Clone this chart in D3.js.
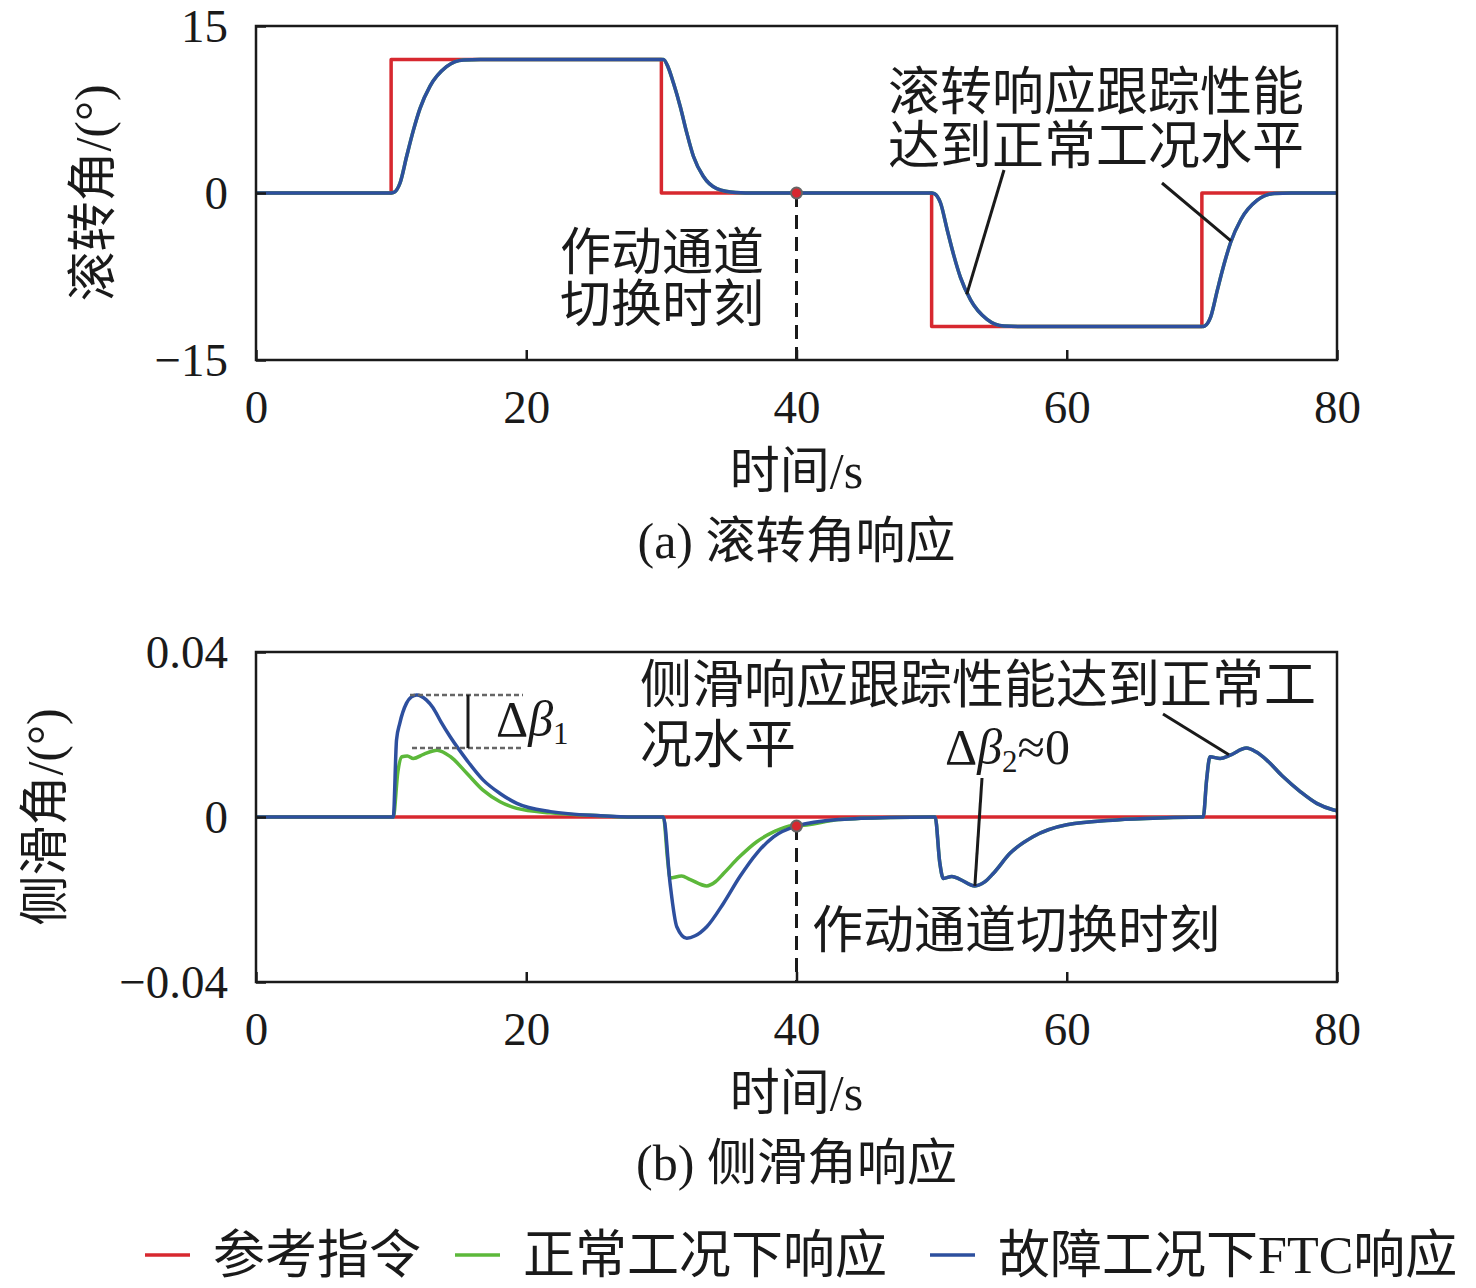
<!DOCTYPE html>
<html>
<head>
<meta charset="utf-8">
<script src="https://cdn.jsdelivr.net/npm/d3@7"></script>
<style>
  body { margin: 0; background: #fff; }
  svg text { font-family: "Liberation Serif", "Noto Sans CJK SC", serif; fill: #1a1a1a; }
</style>
</head>
<body>
<script>
// ---- data ----
const xTicks = [0, 20, 40, 60, 80];
const rollTicks = [-15, 0, 15];
const rollTickLabels = ["\u221215", "0", "15"];
const betaTicks = [-0.04, 0, 0.04];
const betaTickLabels = ["\u22120.04", "0", "0.04"];

// reference command (step) for roll angle, deg
const refTime = [0, 10, 30, 50, 70, 80];
const rollRef = [0, 12, 0, -12, 0, 0];
const betaRef = [0, 0, 0, 0, 0, 0];

// roll angle response (normal and FTC overlap)
const rollTime = [0, 10, 10.2, 10.66, 11.15, 11.64, 12.14, 12.88, 14.1, 15.35, 16.6, 30, 30.15, 30.5, 30.9, 31.4, 31.88, 32.37, 33.1, 34.1, 35.5, 37,
  50, 50.2, 50.66, 51.15, 51.64, 52.14, 52.88, 54.1, 55.35, 56.6, 70, 70.2, 70.66, 71.15, 71.64, 72.14, 72.88, 74.1, 75.35, 76.6, 80];
const rollFtc = [0, 0, 0.05, 0.9, 3.3, 5.6, 7.6, 9.6, 11.35, 11.95, 12, 12, 12, 11.3, 9.85, 7.75, 5.4, 3.3, 1.5, 0.4, 0.05, 0,
  0, -0.05, -0.9, -3.3, -5.6, -7.6, -9.6, -11.35, -11.95, -12, -12, -11.95, -11.1, -8.7, -6.4, -4.4, -2.4, -0.65, -0.05, 0, 0];
const rollNormal = rollFtc.slice();

// sideslip response, FTC
const betaFtcTime = [0, 10, 10.16, 10.4, 10.64, 11.14, 11.5, 11.9, 12.6, 13.1, 13.7, 14.36, 15.6, 16.8, 18.06, 19.3, 21.8, 25.5, 28, 30,
  30.15, 30.64, 31.14, 31.88, 32.5, 33.36, 34.6, 35.8, 37.06, 38.3, 40, 43.2, 47, 50,
  50.26, 50.6, 50.87, 51.5, 52.1, 53.2, 53.9, 54.56, 55.8, 57.5, 60, 63.7, 67.4, 70,
  70.1, 70.35, 70.6, 71.35, 72.1, 73.3, 74.0, 74.8, 76.0, 77.3, 78.5, 79.75, 80];
const betaFtc = [0, 0, 0, 0.0187, 0.0227, 0.0276, 0.0291, 0.0296, 0.0284, 0.0265, 0.023, 0.0195, 0.0138, 0.009, 0.0057, 0.0033, 0.0013, 0.0003, 0, 0,
  0, -0.016, -0.0266, -0.0294, -0.0288, -0.0266, -0.0209, -0.0145, -0.0088, -0.0048, -0.0022, -0.0006, -0.0001, 0,
  0, -0.011, -0.0149, -0.0144, -0.0151, -0.0167, -0.0158, -0.0137, -0.0088, -0.0048, -0.0019, -0.0007, -0.0002, 0,
  0, 0.009, 0.0146, 0.0142, 0.015, 0.0167, 0.0158, 0.0138, 0.0098, 0.0061, 0.0033, 0.0017, 0.0015];

// sideslip response, normal condition
const betaNormalTime = [0, 10, 10.16, 10.5, 10.8, 11.2, 11.64, 12.4, 13.4, 14.4, 15.6, 16.8, 18.06, 19.3, 21.8, 25.5, 28, 30,
  30.15, 30.45, 30.64, 31.5, 32.1, 33.36, 34.0, 34.6, 35.8, 37.06, 38.3, 39.7, 40, 43.2, 47, 50,
  50.26, 50.6, 50.87, 51.5, 52.1, 53.2, 53.9, 54.56, 55.8, 57.5, 60, 63.7, 67.4, 70,
  70.1, 70.35, 70.6, 71.35, 72.1, 73.3, 74.0, 74.8, 76.0, 77.3, 78.5, 79.75, 80];
const betaNormal = [0, 0, 0, 0.011, 0.0146, 0.0148, 0.0142, 0.0152, 0.0162, 0.0146, 0.0106, 0.0065, 0.0037, 0.0021, 0.001, 0.0003, 0, 0,
  0, -0.01, -0.0148, -0.0143, -0.0151, -0.0167, -0.0157, -0.0137, -0.0096, -0.006, -0.0036, -0.0021, -0.0021, -0.0006, -0.0001, 0,
  0, -0.011, -0.0149, -0.0144, -0.0151, -0.0167, -0.0158, -0.0137, -0.0088, -0.0048, -0.0019, -0.0007, -0.0002, 0,
  0, 0.009, 0.0146, 0.0142, 0.015, 0.0167, 0.0158, 0.0138, 0.0098, 0.0061, 0.0033, 0.0017, 0.0015];

const switchTime = 40;
const legendLabels = ["参考指令", "正常工况下响应", "故障工况下FTC响应"];
const colors = ["#d7282f", "#5cb83a", "#2d4f9e"];

// ---- drawing ----
const svg = d3.select("body").append("svg")
  .attr("width", 1476).attr("height", 1288);

const x = d3.scaleLinear().domain([0, 80]).range([256, 1337]);
const yRoll = d3.scaleLinear().domain([-15, 15]).range([360, 26]);
const yBeta = d3.scaleLinear().domain([-0.04, 0.04]).range([982, 652]);

const zip = (t, v) => t.map((d, i) => [d, v[i]]);

function panel(y, ticks, tickLabels, series, yTitle, titleX, caption) {
  const top = y.range()[1], bottom = y.range()[0];
  const g = svg.append("g");

  // lines
  series.forEach(s => {
    const line = d3.line()
      .x(d => x(d[0])).y(d => y(d[1]))
      .curve(s.step ? d3.curveStepAfter : d3.curveMonotoneX);
    g.append("path").datum(s.data)
      .attr("d", line)
      .attr("fill", "none")
      .attr("stroke", s.color)
      .attr("stroke-width", 3.5)
      .attr("stroke-linejoin", "round");
  });

  // frame
  g.append("rect")
    .attr("x", x(0)).attr("y", top)
    .attr("width", x(80) - x(0)).attr("height", bottom - top)
    .attr("fill", "none").attr("stroke", "#1a1a1a").attr("stroke-width", 2.5);

  const xAxis = g.append("g")
    .attr("transform", `translate(0,${bottom})`)
    .call(d3.axisBottom(x).tickValues(xTicks).tickSizeInner(-10).tickSizeOuter(0).tickPadding(30));
  xAxis.select(".domain").remove();
  xAxis.selectAll("line").attr("stroke", "#1a1a1a").attr("stroke-width", 2.5);
  xAxis.selectAll("text").attr("font-size", 47).attr("fill", "#1a1a1a")
    .style("font-family", "'Liberation Serif', serif");

  const yAxis = g.append("g")
    .attr("transform", `translate(${x(0)},0)`)
    .call(d3.axisLeft(y).tickValues(ticks).tickFormat((d, i) => tickLabels[i])
      .tickSizeInner(-10).tickSizeOuter(0).tickPadding(28));
  yAxis.select(".domain").remove();
  yAxis.selectAll("line").attr("stroke", "#1a1a1a").attr("stroke-width", 2.5);
  yAxis.selectAll("text").attr("font-size", 47).attr("fill", "#1a1a1a")
    .style("font-family", "'Liberation Serif', serif");

  // titles
  g.append("text")
    .attr("x", x(40)).attr("y", bottom + 128)
    .attr("text-anchor", "middle").attr("font-size", 50)
    .text("时间/s");
  g.append("text")
    .attr("x", x(40)).attr("y", bottom + 198)
    .attr("text-anchor", "middle").attr("font-size", 50)
    .text(caption);
  g.append("text")
    .attr("transform", `translate(${titleX},${y(0)}) rotate(-90)`)
    .attr("text-anchor", "middle").attr("dy", "0.35em").attr("font-size", 50)
    .text(yTitle);

  return g;
}

// (a) roll
const gA = panel(yRoll, rollTicks, rollTickLabels, [
  { data: zip(refTime, rollRef), color: colors[0], step: true },
  { data: zip(rollTime, rollNormal), color: colors[1] },
  { data: zip(rollTime, rollFtc), color: colors[2] }
], "滚转角/(°)", 92, "(a) 滚转角响应");

// (b) sideslip
const gB = panel(yBeta, betaTicks, betaTickLabels, [
  { data: zip(refTime, betaRef), color: colors[0], step: true },
  { data: zip(betaNormalTime, betaNormal), color: colors[1] },
  { data: zip(betaFtcTime, betaFtc), color: colors[2] }
], "侧滑角/(°)", 44, "(b) 侧滑角响应");

// switch markers
function switchMark(g, y, yv) {
  g.append("line")
    .attr("x1", x(switchTime)).attr("x2", x(switchTime))
    .attr("y1", y(yv)).attr("y2", y.range()[0])
    .attr("stroke", "#1a1a1a").attr("stroke-width", 3)
    .attr("stroke-dasharray", "14,8");
  g.append("circle")
    .attr("cx", x(switchTime)).attr("cy", y(yv)).attr("r", 5.5)
    .attr("fill", "#d7282f").attr("stroke", "#666").attr("stroke-width", 2);
}
switchMark(gA, yRoll, 0);
switchMark(gB, yBeta, -0.0022);

function label(g, px, py, lines, size, lh) {
  const t = g.append("text").attr("font-size", size);
  lines.forEach((s, i) => t.append("tspan").attr("x", px).attr("y", py + i * lh).text(s));
  return t;
}
function leader(g, x1, y1, x2, y2) {
  g.append("line").attr("x1", x1).attr("y1", y1).attr("x2", x2).attr("y2", y2)
    .attr("stroke", "#1a1a1a").attr("stroke-width", 3);
}

// panel (a) notes
label(gA, 560, 270, ["作动通道", "切换时刻"], 51, 52);
label(gA, 888, 110, ["滚转响应跟踪性能", "达到正常工况水平"], 52, 54);
leader(gA, 1004, 170, x(52.6), yRoll(-9.1));
leader(gA, 1162, 183, x(72.15), yRoll(-4.3));

// panel (b) notes
label(gB, 640, 703, ["侧滑响应跟踪性能达到正常工", "况水平"], 52, 60);
label(gB, 812, 948, ["作动通道切换时刻"], 51, 0);
leader(gB, 982, 778, x(53.2), yBeta(-0.0167));
leader(gB, 1163, 714, x(72.0), yBeta(0.0151));

// delta beta 1 bracket
const b1Top = yBeta(0.0296), b1Bot = yBeta(0.0167);
[[410, b1Top], [412, b1Bot]].forEach(([x0, yy]) => {
  gB.append("line").attr("x1", x0).attr("x2", 523).attr("y1", yy).attr("y2", yy)
    .attr("stroke", "#666").attr("stroke-width", 2.5).attr("stroke-dasharray", "5,3");
});
gB.append("line").attr("x1", 468).attr("x2", 468).attr("y1", b1Top).attr("y2", b1Bot)
  .attr("stroke", "#1a1a1a").attr("stroke-width", 3);

const d1 = gB.append("text").attr("x", 496).attr("y", 736).attr("font-size", 50);
d1.append("tspan").text("Δ");
d1.append("tspan").attr("font-style", "italic").text("β");
d1.append("tspan").attr("font-size", 31).attr("dy", 8).text("1");

const d2 = gB.append("text").attr("x", 945).attr("y", 764).attr("font-size", 50);
d2.append("tspan").text("Δ");
d2.append("tspan").attr("font-style", "italic").text("β");
d2.append("tspan").attr("font-size", 31).attr("dy", 8).text("2");
d2.append("tspan").attr("dy", -8).text("≈0");

// legend
const legX = [145, 455, 930];
const legend = svg.append("g").attr("transform", "translate(0,1255)");
legendLabels.forEach((name, i) => {
  legend.append("line")
    .attr("x1", legX[i]).attr("x2", legX[i] + 45)
    .attr("stroke", colors[i]).attr("stroke-width", 3.5);
  legend.append("text")
    .attr("x", legX[i] + 68).attr("dy", "0.35em")
    .attr("font-size", 52)
    .text(name);
});
</script>
</body>
</html>
